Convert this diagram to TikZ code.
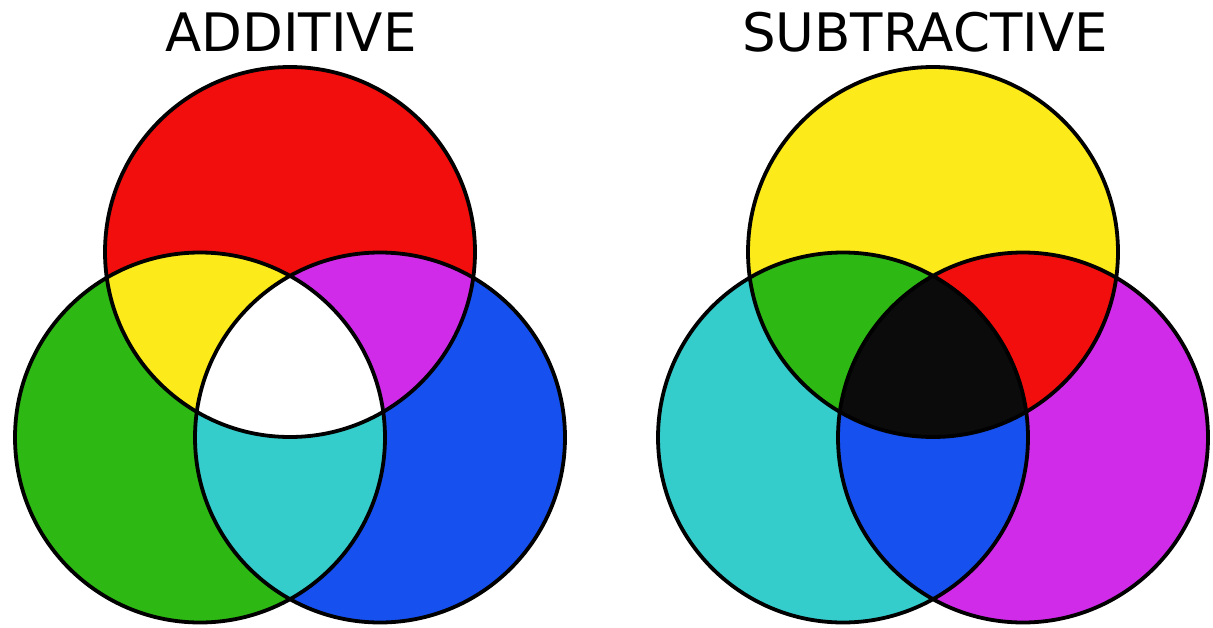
\documentclass[tikz,border=0pt]{standalone}
\usepackage{fontspec}
\setmainfont{DejaVu Sans}
\definecolor{cRed}{RGB}{242,14,12}
\definecolor{cYel}{RGB}{252,234,26}
\definecolor{cGrn}{RGB}{45,184,20}
\definecolor{cBlu}{RGB}{22,80,238}
\definecolor{cMag}{RGB}{207,43,232}
\definecolor{cCya}{RGB}{53,205,203}
\definecolor{cBlk}{RGB}{11,11,11}
\tikzset{
  ring/.style={draw=black, line width=3.8pt},
  title/.style={font=\fontsize{53}{60}\selectfont, anchor=base, inner sep=0pt}
}
% #1 xshift, #2 top, #3 left, #4 right, #5 top&left, #6 top&right, #7 left&right, #8 all
\newcommand\vennset[8]{%
  \begin{scope}[xshift=#1]
    \fill[#3] (200,437.5) circle (185pt);
    \fill[#4] (380,437.5) circle (185pt);
    \fill[#2] (290,252) circle (185pt);
    \begin{scope}
      \clip (290,252) circle (185pt);
      \fill[#5] (200,437.5) circle (185pt);
      \fill[#6] (380,437.5) circle (185pt);
    \end{scope}
    \begin{scope}
      \clip (200,437.5) circle (185pt);
      \fill[#7] (380,437.5) circle (185pt);
    \end{scope}
    \begin{scope}
      \clip (290,252) circle (185pt);
      \clip (200,437.5) circle (185pt);
      \fill[#8] (380,437.5) circle (185pt);
    \end{scope}
    \draw[ring] (290,252) circle (185pt);
    \draw[ring] (200,437.5) circle (185pt);
    \draw[ring] (380,437.5) circle (185pt);
  \end{scope}}
\begin{document}
\begin{tikzpicture}[x=1pt,y=-1pt]
  \useasboundingbox (0,0) rectangle (1213,627);
  \fill[white] (0,0) rectangle (1213,627);
  \vennset{0pt}{cRed}{cGrn}{cBlu}{cYel}{cMag}{cCya}{white}
  \vennset{643pt}{cYel}{cCya}{cMag}{cGrn}{cRed}{cBlu}{cBlk}
  \node[title] (addt) at (291,51) {ADDITIVE};
  \node[title] (subt) at (925,51) {SUBTRACTIVE};
\end{tikzpicture}
\end{document}
